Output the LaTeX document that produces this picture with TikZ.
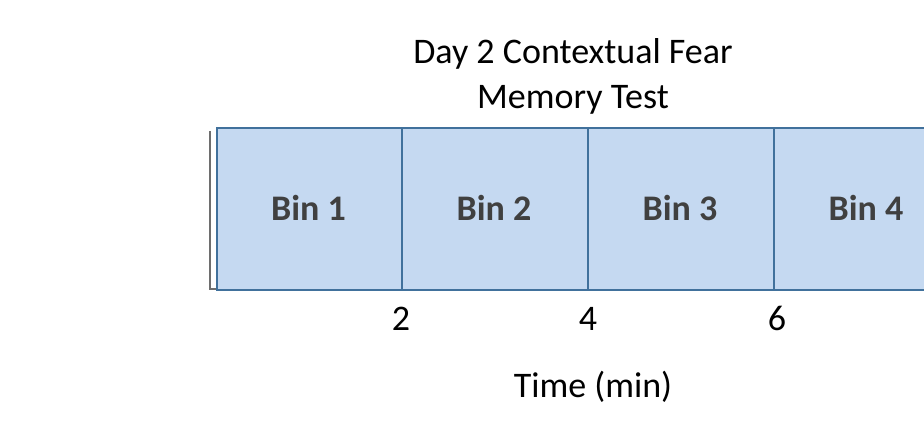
\documentclass[tikz,border=0pt]{standalone}
\usepackage{fontspec}
\setmainfont{Carlito}
\definecolor{binfill}{RGB}{197,217,241}
\definecolor{binedge}{RGB}{65,113,156}
\definecolor{axisgray}{RGB}{110,110,110}
\definecolor{bintext}{RGB}{64,64,64}
\begin{document}
\begin{tikzpicture}[x=1pt,y=-1pt,
  binbox/.style={draw=binedge,fill=binfill,line width=2.4pt,minimum width=186pt,minimum height=162pt,inner sep=0pt,anchor=north west},
  lbl/.style={anchor=base,inner sep=0pt,font=\fontsize{36}{40}\selectfont,text=black},
  binlbl/.style={lbl,text=bintext,font=\fontsize{36}{40}\selectfont\bfseries}]
\useasboundingbox (0,0) rectangle (924,425);
\begin{scope}
\clip (0,0) rectangle (924,425);
\node[binbox] (b1) at (216,127) {};
\node[binbox] (b2) at (401,127) {};
\node[binbox] (b3) at (587,127) {};
\node[binbox] (b4) at (773,127) {};
\end{scope}
\node[binlbl] (t1) at (308.5,220) {Bin 1};
\node[binlbl] (t2) at (494,220) {Bin 2};
\node[binlbl] (t3) at (680,220) {Bin 3};
\node[binlbl] (t4) at (866,220) {Bin 4};
\coordinate (ax1) at (210,131);
\coordinate (ax2) at (210,289);
\coordinate (ax3) at (216,289);
\draw[axisgray,line width=2.4pt] (ax1) -- (ax2) -- (ax3);
\node[lbl] (title1) at (573,64) {Day 2 Contextual Fear};
\node[lbl] (title2) at (573,109) {Memory Test};
\node[lbl] (n2) at (401,330) {2};
\node[lbl] (n4) at (588,330) {4};
\node[lbl] (n6) at (777,330) {6};
\node[lbl] (time) at (593,397) {Time (min)};
\end{tikzpicture}
\end{document}
